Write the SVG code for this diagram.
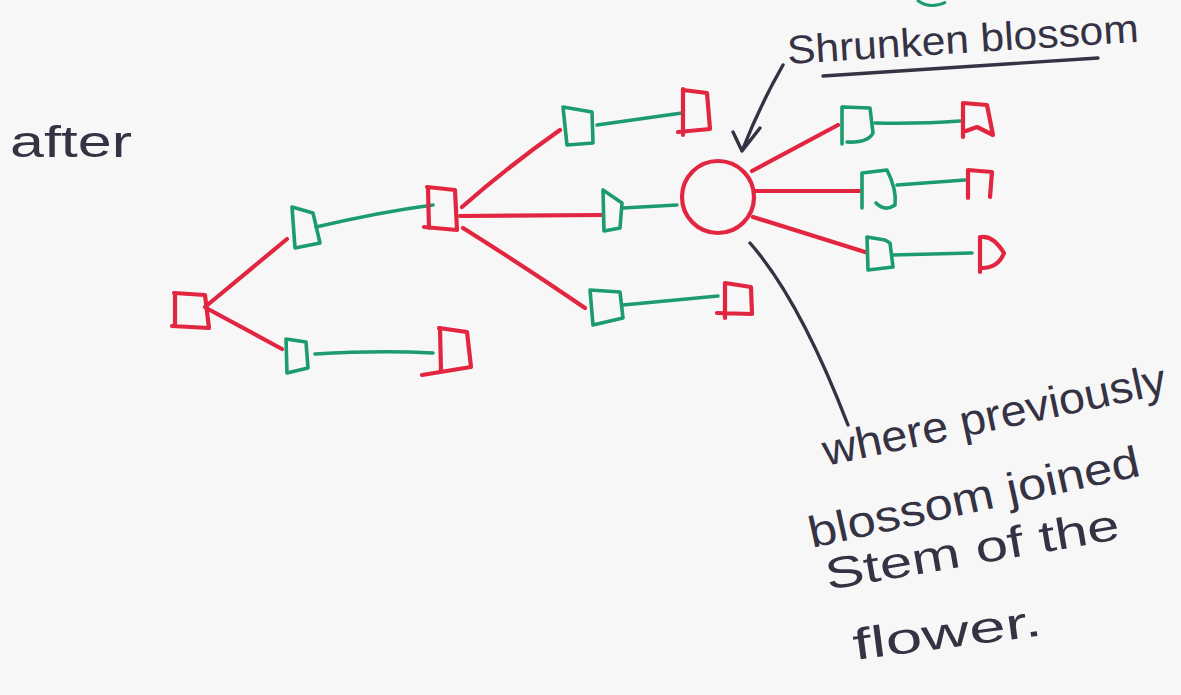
<svg xmlns="http://www.w3.org/2000/svg" width="1181" height="695" viewBox="0 0 1181 695">
<style>
.r{fill:none;stroke:#e3263f;stroke-width:4.2;stroke-linecap:round;stroke-linejoin:round}
.g{fill:none;stroke:#1c9c6e;stroke-width:3.6;stroke-linecap:round;stroke-linejoin:round}
.ink{fill:none;stroke:#353244;stroke-width:3.4;stroke-linecap:round;stroke-linejoin:round}
.t{font-family:"Liberation Sans",Arial,sans-serif;fill:#353244}
</style>
<rect width="1181" height="695" fill="#f7f7f8"/>

<g id="connectors">
  <path class="r" d="M205,307 L287,239"/>
  <path class="r" d="M208,309 L282,349"/>
  <path class="g" d="M316,227 Q380,212 433,205"/>
  <path class="g" d="M315,354 Q380,350 433,353"/>
  <path class="r" d="M462,207 Q510,165 560,130"/>
  <path class="r" d="M460,216 L603,215"/>
  <path class="r" d="M463,228 Q530,270 585,308"/>
  <path class="g" d="M597,125 L682,113"/>
  <path class="g" d="M623,208 L677,205"/>
  <path class="g" d="M623,305 L718,296"/>
  <path class="r" d="M752,171 L838,125"/>
  <path class="r" d="M755,191 L860,191"/>
  <path class="r" d="M753,217 L865,252"/>
  <path class="g" d="M875,123 Q920,124 960,121"/>
  <path class="g" d="M897,185 L965,180"/>
  <path class="g" d="M892,255 L972,253"/>
</g>

<g id="n-root"><path class="r" d="M174,293 L205,295 L209,328 L172,326 M175,294 L175,325"/></g>
<g id="n-a"><path class="g" d="M292,207 L313,213 L320,243 L295,248 L292,207"/></g>
<g id="n-b"><path class="g" d="M286,339 L306,342 L308,368 L287,373 L286,339"/></g>
<g id="n-c"><path class="r" d="M439,328 L467,332 L471,367 L422,375 M440,328 L441,372"/></g>
<g id="n-d"><path class="r" d="M427,187 L455,190 L457,230 L424,227 M428,188 L429,228"/></g>
<g id="n-e"><path class="g" d="M563,107 L592,112 L593,143 L567,145 L563,107"/></g>
<g id="n-f"><path class="r" d="M683,90 L707,93 L710,129 L678,132 M683,89 L683,135"/></g>
<g id="n-g"><path class="g" d="M603,190 L622,203 L620,228 L604,231 L603,190"/></g>
<g id="n-h"><path class="g" d="M590,290 L620,292 L623,318 L593,325 L590,290"/></g>
<g id="n-i"><path class="r" d="M725,283 L751,287 L752,314 L717,313 M725,283 L725,318"/></g>
<g id="n-blossom"><circle class="r" cx="718" cy="197" r="36"/></g>
<g id="n-j"><path class="g" d="M843,107 L870,108 L873,133 Q868,143 847,142 M842,107 L842,144"/></g>
<g id="n-k"><path class="r" d="M963,103 L987,105 L993,135 L977,127 L966,131 M963,103 L963,137"/></g>
<g id="n-l"><path class="g" d="M862,208 L862,173 L887,170 Q897,190 895,205 Q885,212 876,203"/></g>
<g id="n-m"><path class="r" d="M968,198 L968,170 L992,172 L990,197"/></g>
<g id="n-n"><path class="g" d="M867,237 L885,240 L890,243 L893,267 L868,270 L867,237"/></g>
<g id="n-o"><path class="r" d="M980,237 L980,272 M981,237 Q993,235 1004,253 Q998,268 982,268"/></g>

<g id="annotations">
  <text class="t" x="10" y="157" font-size="44" textLength="122" lengthAdjust="spacingAndGlyphs">after</text>
  <text class="t" font-size="40" textLength="352" lengthAdjust="spacingAndGlyphs" transform="translate(788,64) rotate(-3.6)">Shrunken blossom</text>
  <path class="ink" d="M823,76 L1098,58"/>
  <path class="ink" d="M783,65 Q760,105 742,151 M733,132 L742,151 L760,128"/>
  <path class="ink" d="M750,243 Q800,300 848,425"/>
  <path d="M917,0 Q930,10 946,2" fill="none" stroke="#1c9c6e" stroke-width="3"/>
  <text class="t" font-size="44" textLength="350" lengthAdjust="spacingAndGlyphs" transform="translate(826,466) rotate(-12)">where previously</text>
  <text class="t" font-size="44" textLength="338" lengthAdjust="spacingAndGlyphs" transform="translate(812,548) rotate(-12.4)">blossom joined</text>
  <text class="t" font-size="44" textLength="298" lengthAdjust="spacingAndGlyphs" transform="translate(828,590) rotate(-9.9)">Stem of the</text>
  <text class="t" font-size="44" textLength="190" lengthAdjust="spacingAndGlyphs" transform="translate(855,660) rotate(-7.5)">flower.</text>
</g>
</svg>
